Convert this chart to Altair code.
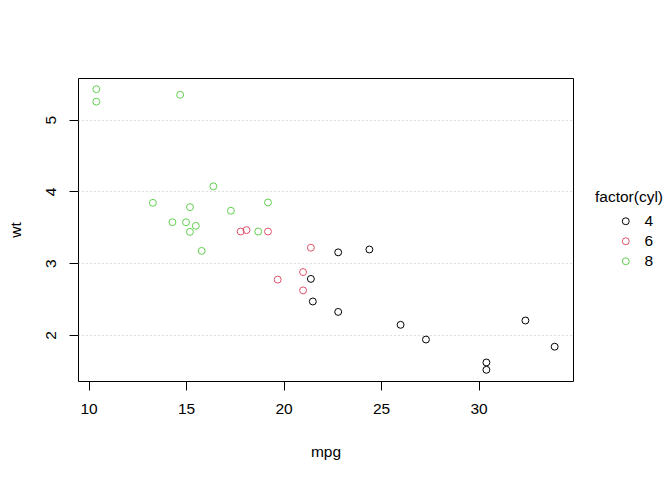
import altair as alt
import pandas as pd

mpg = [21.0, 21.0, 22.8, 21.4, 18.7, 18.1, 14.3, 24.4, 22.8, 19.2, 17.8, 16.4, 17.3, 15.2,
       10.4, 10.4, 14.7, 32.4, 30.4, 33.9, 21.5, 15.5, 15.2, 13.3, 19.2, 27.3, 26.0, 30.4,
       15.8, 19.7, 15.0, 21.4]
cyl = [6, 6, 4, 6, 8, 6, 8, 4, 4, 6, 6, 8, 8, 8, 8, 8, 8, 4, 4, 4, 4, 8, 8, 8, 8, 4, 4, 4,
       8, 6, 8, 4]
wt = [2.620, 2.875, 2.320, 3.215, 3.440, 3.460, 3.570, 3.190, 3.150, 3.440, 3.440, 4.070,
      3.730, 3.780, 5.250, 5.424, 5.345, 2.200, 1.615, 1.835, 2.465, 3.520, 3.435, 3.840,
      3.845, 1.935, 2.140, 1.513, 3.170, 2.770, 3.570, 2.780]
levels = ["4", "6", "8"]
colors = ["#000000", "#DF536B", "#61D04F"]
x_ticks = [10, 15, 20, 25, 30]
y_ticks = [2, 3, 4, 5]

df = pd.DataFrame({"mpg": mpg, "wt": wt, "cyl": [str(c) for c in cyl]})

FONT = "Liberation Sans"
FS = 15.5
PT = 48

chart = alt.Chart(df).mark_point(filled=False, size=PT, strokeWidth=1, opacity=1).encode(
    x=alt.X("mpg:Q",
            scale=alt.Scale(domain=[9.46, 34.84], nice=False, zero=False),
            axis=alt.Axis(values=x_ticks, grid=False, domain=False, tickSize=9,
                          tickColor="black", labelPadding=11, labelFontSize=FS,
                          labelColor="black", labelFont=FONT, title="mpg",
                          titleFont=FONT, titleFontSize=FS, titleFontWeight="normal",
                          titleColor="black", titleY=70, titleBaseline="middle")),
    y=alt.Y("wt:Q",
            scale=alt.Scale(domain=[1.357, 5.580], nice=False, zero=False),
            axis=alt.Axis(values=y_ticks, grid=True, gridDash=[1, 3], gridColor="#bbbbbb",
                          domain=False, tickSize=9, tickColor="black", labelAngle=-90,
                          labelAlign="center", labelBaseline="bottom", labelPadding=11,
                          labelFontSize=FS, labelColor="black", labelFont=FONT, title="wt",
                          titleFont=FONT, titleFontSize=FS, titleFontWeight="normal",
                          titleColor="black", titleX=-63, titleBaseline="middle",
                          titleAngle=-90)),
    color=alt.Color("cyl:N",
                    scale=alt.Scale(domain=levels, range=colors),
                    legend=alt.Legend(title="factor(cyl)", orient="none", legendX=517,
                                      legendY=112, titleFont=FONT, titleFontSize=FS,
                                      titleFontWeight="normal", titleColor="black",
                                      titleAnchor="start", titleAlign="left",
                                      labelFont=FONT, labelFontSize=FS, labelColor="black",
                                      symbolType="circle", symbolFillColor="transparent",
                                      symbolSize=PT, symbolStrokeWidth=1,
                                      symbolOffset=23, labelOffset=11,
                                      rowPadding=3, titlePadding=8)),
).properties(
    width=495, height=303,
    background="white",
    autosize=alt.AutoSizeParams(type="none"),
    padding={"left": 70, "top": 70, "right": 91, "bottom": 91},
).configure_view(stroke="black", strokeWidth=1)

chart.save("out.html", embed_options={"renderer": "svg", "actions": False})
